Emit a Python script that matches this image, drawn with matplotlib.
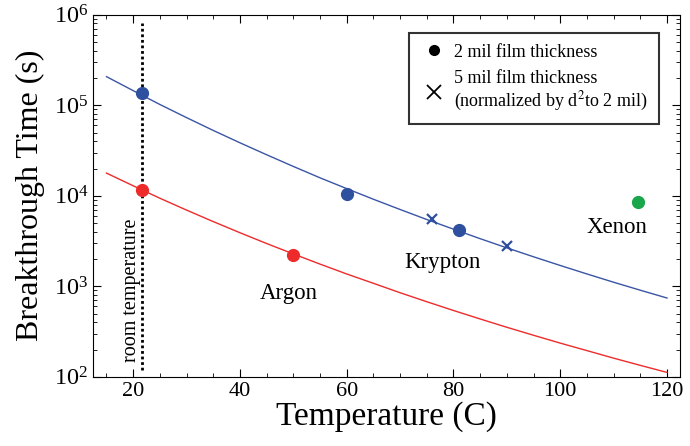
import numpy as np
import matplotlib
matplotlib.use("Agg")
import matplotlib.pyplot as plt
from matplotlib.ticker import MultipleLocator, LogLocator, NullFormatter
from matplotlib.lines import Line2D

plt.rcParams['font.family'] = ['Liberation Serif', 'DejaVu Serif']
plt.rcParams['mathtext.fontset'] = 'stix'

# fitted curves (temperature in C, time in s)
curve_T = [15, 20, 25, 30, 35, 40, 45, 50, 55, 60, 65, 70, 75, 80, 85, 90, 95, 100, 105, 110, 115, 120]
krypton_fit = [2.07e5, 1.45e5, 1.02e5, 7.3e4, 5.27e4, 3.85e4, 2.84e4, 2.11e4, 1.58e4, 1.2e4, 9.16e3,
               7.06e3, 5.47e3, 4.28e3, 3.36e3, 2.66e3, 2.12e3, 1.70e3, 1.37e3, 1.11e3, 906, 743]
argon_fit = [1.78e4, 1.29e4, 9.4e3, 6.95e3, 5.19e3, 3.91e3, 2.97e3, 2.28e3, 1.76e3, 1.37e3, 1.08e3,
             850, 676, 541, 436, 353, 288, 236, 195, 161, 134, 112]

# measured points
kr_T = [21.7, 60, 81]
kr_t = [1.35e5, 1.05e4, 4.2e3]
kr5_T = [76, 90]
kr5_t = [5.5e3, 2.8e3]
ar_T = [21.7, 50]
ar_t = [1.15e4, 2.2e3]
xe_T = [114.5]
xe_t = [8.5e3]

blue = '#3a55a5'
red = '#ee2b2b'
green = '#1aa64a'

fig = plt.figure(figsize=(6.9, 4.46), dpi=100)
ax = fig.add_axes([0.135, 0.155, 0.851, 0.812])

ax.plot(curve_T, krypton_fit, color=blue, lw=1)
ax.plot(curve_T, argon_fit, color=red, lw=1)

ax.plot([21.7, 21.7], [1.2e2, 8e5], color='black', ls=(0, (1, 1)), lw=2)

ax.plot(kr_T, kr_t, 'o', color='#2f4f9f', ms=8.5)
ax.plot(kr5_T, kr5_t, 'x', color='#2f4f9f', ms=7.5, mew=1.6)
ax.plot(ar_T, ar_t, 'o', color=red, ms=8.5)
ax.plot(xe_T, xe_t, 'o', color=green, ms=8.5)

ax.text(19.6, 900, 'room temperature', rotation=90, ha='center', va='center', fontsize=14.5)
ax.text(49.2, 840, 'Argon', ha='center', va='center', fontsize=16.5)
ax.text(77.9, 1.85e3, 'Krypton', ha='center', va='center', fontsize=16.5)
ax.text(110.6, 4.5e3, 'Xenon', ha='center', va='center', fontsize=16.5)

ax.set_yscale('log')
ax.set_xlim(12.5, 122.5)
ax.set_ylim(1e2, 1e6)
ax.xaxis.set_major_locator(MultipleLocator(20))
ax.xaxis.set_minor_locator(MultipleLocator(5))
ax.yaxis.set_major_locator(LogLocator(base=10, numticks=10))
ax.yaxis.set_minor_locator(LogLocator(base=10, subs=np.arange(2, 10), numticks=10))
ax.yaxis.set_minor_formatter(NullFormatter())
ax.tick_params(which='both', direction='in', top=True, right=True)
ax.tick_params(axis='x', labelsize=16)
ax.tick_params(axis='y', labelsize=17.5)
ax.tick_params(which='major', length=6)
ax.tick_params(which='minor', length=3)

ax.set_xlabel('Temperature (C)', fontsize=24, labelpad=0)
ax.set_ylabel('Breakthrough Time (s)', fontsize=23, labelpad=6)

handles = [Line2D([], [], marker='o', color='black', ls='none', ms=7),
           Line2D([], [], marker='x', color='black', ls='none', ms=10, mew=1.3)]
labels = ['2 mil film thickness', '5 mil film thickness\n(normalized by d$^2$to 2 mil)']
leg = ax.legend(handles, labels, loc='upper right', bbox_to_anchor=(0.963, 0.95), fontsize=13,
                frameon=True, fancybox=False, edgecolor='black', handletextpad=0.3,
                borderpad=0.6, labelspacing=0.5, handlelength=1.6, borderaxespad=0)
leg.get_frame().set_linewidth(1.5)

fig.savefig('out.png', dpi=100)
